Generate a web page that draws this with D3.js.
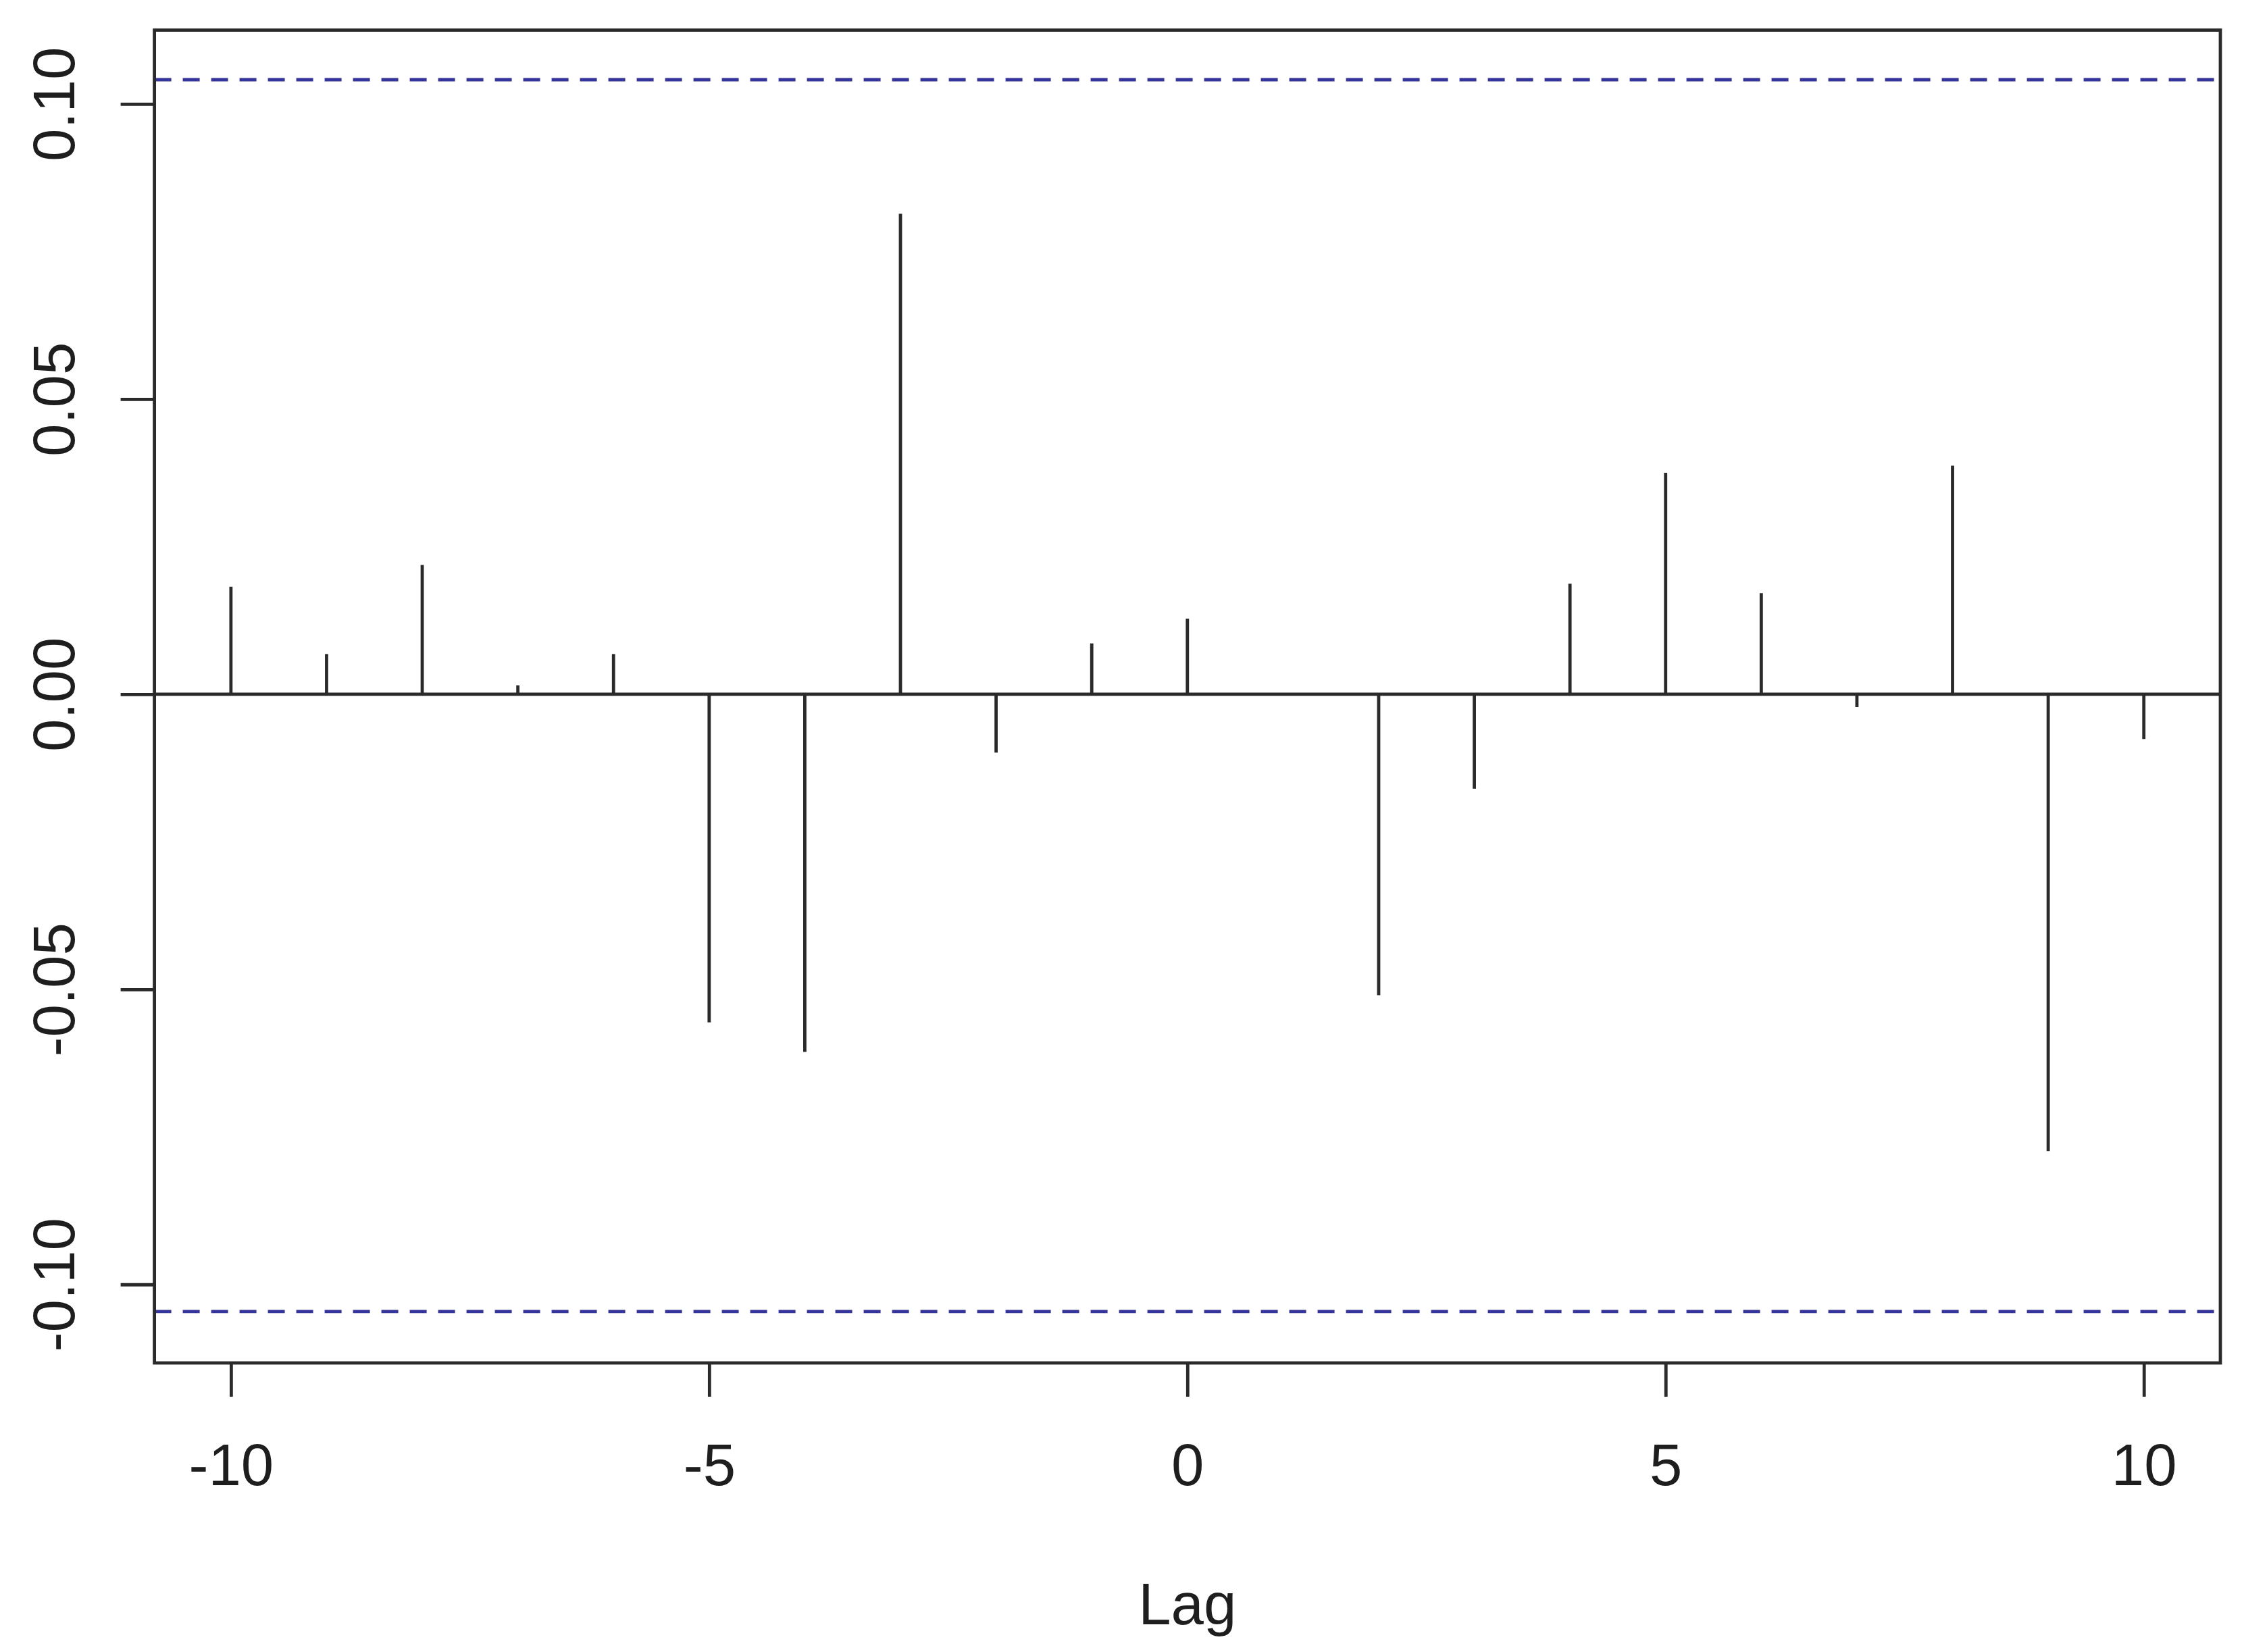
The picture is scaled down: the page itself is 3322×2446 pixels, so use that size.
<!DOCTYPE html>
<html>
<head>
<meta charset="utf-8">
<script src="https://cdn.jsdelivr.net/npm/d3@7"></script>
<style>
    html, body { margin: 0; padding: 0; background: #fff; }
    svg { display: block; }
    text { font-family: "Liberation Sans", Arial, sans-serif; fill: #1e1e1e; }
</style>
</head>
<body>
<svg id="chart"></svg>
<script>
// Cross-correlation values
const lags = [-10, -9, -8, -7, -6, -5, -4, -3, -2, -1, 0, 1, 2, 3, 4, 5, 6, 7, 8, 9, 10];
const ccfValues = [0.0182, 0.0068, 0.0219, 0.0015, 0.0068, -0.0556, -0.0606, 0.0814, -0.0099, 0.0086, 0.0128,
    0.0000, -0.0510, -0.0160, 0.0187, 0.0375, 0.0171, -0.0022, 0.0387, -0.0774, -0.0076];
const ciBounds = [0.1041, -0.1046];
const xTicks = [-10, -5, 0, 5, 10];
const yTicks = [-0.10, -0.05, 0.00, 0.05, 0.10];
const xLabel = "Lag";

const W = 3322, H = 2446;
const plot = { left: 228.6, right: 3287, top: 44.6, bottom: 2018 };
const lineColor = "#2a2a2a";
const lw = 4.8;
const fontSize = 87;

const svg = d3.select("#chart")
    .attr("width", W)
    .attr("height", H)
    .attr("viewBox", `0 0 ${W} ${H}`);

svg.append("rect").attr("width", W).attr("height", H).attr("fill", "#fff");

const x = d3.scaleLinear().domain([-10.8, 10.8]).range([plot.left, plot.right]);
const y = d3.scaleLinear().domain([-0.1133, 0.1125]).range([plot.bottom, plot.top]);

const data = lags.map((lag, i) => ({ lag: lag, value: ccfValues[i] }));

svg.append("clipPath").attr("id", "plot-clip")
    .append("rect")
    .attr("x", plot.left).attr("y", plot.top)
    .attr("width", plot.right - plot.left).attr("height", plot.bottom - plot.top);

const inner = svg.append("g").attr("clip-path", "url(#plot-clip)");

// zero line
inner.append("line")
    .attr("x1", plot.left).attr("x2", plot.right)
    .attr("y1", y(0)).attr("y2", y(0))
    .attr("stroke", lineColor).attr("stroke-width", lw);

// confidence bounds
inner.selectAll(".ci")
    .data(ciBounds)
    .join("line")
    .attr("class", "ci")
    .attr("x1", plot.left).attr("x2", plot.right)
    .attr("y1", d => y(d)).attr("y2", d => y(d))
    .attr("stroke", "#34349a")
    .attr("stroke-width", lw)
    .attr("stroke-dasharray", "25 17");

// stems
inner.selectAll(".stem")
    .data(data)
    .join("line")
    .attr("class", "stem")
    .attr("x1", d => x(d.lag)).attr("x2", d => x(d.lag))
    .attr("y1", y(0)).attr("y2", d => y(d.value))
    .attr("stroke", lineColor)
    .attr("stroke-width", lw);

// x axis
const xAxis = svg.append("g")
    .attr("transform", `translate(0,${plot.bottom})`)
    .call(d3.axisBottom(x).tickValues(xTicks).tickSize(50).tickSizeOuter(0).tickFormat(d => String(d)));
xAxis.select(".domain").remove();
xAxis.selectAll(".tick line").attr("stroke", lineColor).attr("stroke-width", lw);
xAxis.selectAll(".tick text")
    .attr("y", 181).attr("dy", 0)
    .attr("font-size", fontSize)
    .attr("font-family", null)
    .attr("fill", null);

// y axis
const yAxis = svg.append("g")
    .attr("transform", `translate(${plot.left},0)`)
    .call(d3.axisLeft(y).tickValues(yTicks).tickSize(50).tickSizeOuter(0).tickFormat(d => d.toFixed(2)));
yAxis.select(".domain").remove();
yAxis.selectAll(".tick line").attr("stroke", lineColor).attr("stroke-width", lw);
yAxis.selectAll(".tick text")
    .attr("x", 0).attr("dy", 0)
    .attr("text-anchor", "middle")
    .attr("transform", "translate(-118.6,0) rotate(-90)")
    .attr("font-size", fontSize)
    .attr("font-family", null)
    .attr("fill", null);

// frame
svg.append("rect")
    .attr("x", plot.left).attr("y", plot.top)
    .attr("width", plot.right - plot.left).attr("height", plot.bottom - plot.top)
    .attr("fill", "none")
    .attr("stroke", lineColor)
    .attr("stroke-width", lw);

// axis title
svg.append("text")
    .attr("x", (plot.left + plot.right) / 2)
    .attr("y", 2405)
    .attr("text-anchor", "middle")
    .attr("font-size", fontSize)
    .text(xLabel);
</script>
</body>
</html>
